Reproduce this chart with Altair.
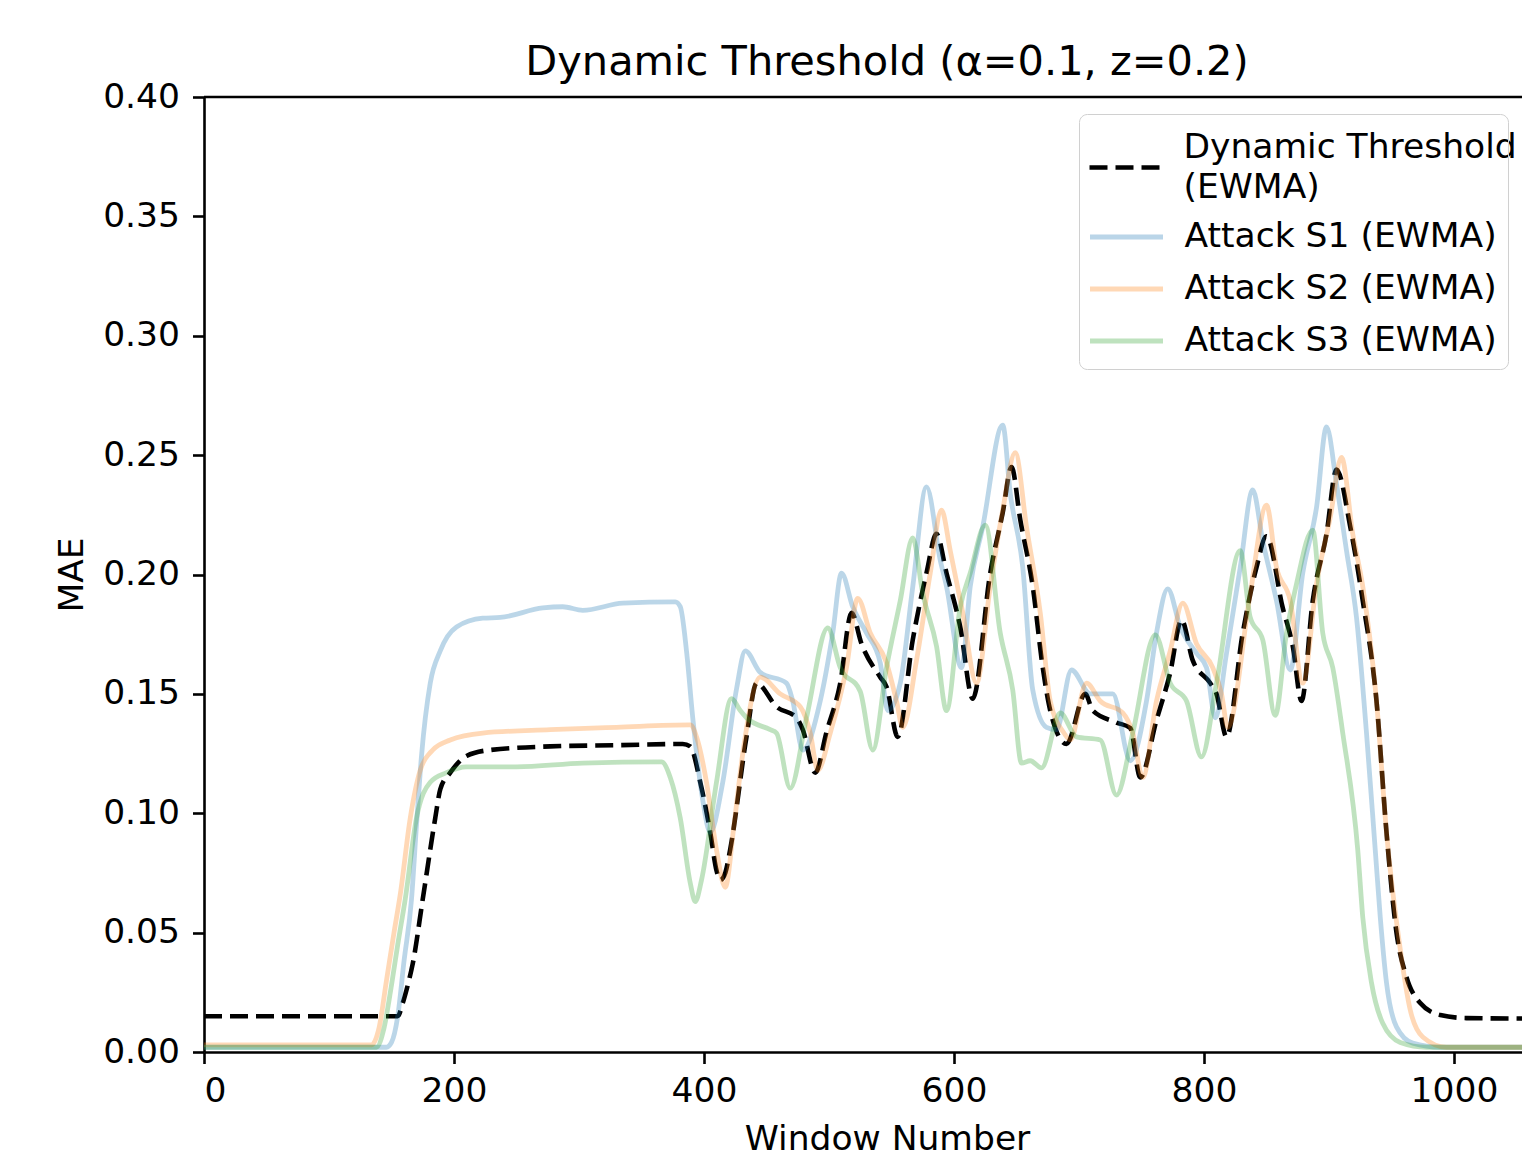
import altair as alt
import pandas as pd

names = ["Dynamic Threshold (EWMA)", "Attack S1 (EWMA)", "Attack S2 (EWMA)", "Attack S3 (EWMA)"]
colors = ["#000000", "#1f77b4", "#ff7f0e", "#2ca02c"]

thr_x = [0, 155, 159, 163, 167, 175, 185, 189, 197, 210, 229, 277, 330, 383, 389, 397, 405, 410, 413, 417, 421, 434, 442,
         458, 474, 479, 489, 498, 509, 518, 526, 541, 546, 555, 567, 578, 586, 594, 605, 615, 629, 639, 646, 653, 663,
         671, 677, 690, 705, 711, 730, 741, 749, 762, 773, 782, 791, 805, 810, 818, 831, 842, 850, 863, 871, 878, 887,
         898, 906, 917, 927, 938, 946, 954, 962, 973, 989, 1010, 1061]
thr_y = [0.015, 0.015, 0.0205, 0.028, 0.037, 0.064, 0.098, 0.110, 0.117, 0.124, 0.1265, 0.128, 0.1285, 0.129, 0.128,
         0.113, 0.092, 0.076, 0.072, 0.075, 0.085, 0.132, 0.1545, 0.1446, 0.140, 0.135, 0.117, 0.134, 0.1545, 0.184,
         0.171, 0.157, 0.153, 0.132, 0.1726, 0.2006, 0.217, 0.2006, 0.178, 0.148, 0.2006, 0.226, 0.245, 0.223, 0.195,
         0.161, 0.143, 0.129, 0.150, 0.143, 0.138, 0.1357, 0.115, 0.139, 0.159, 0.181, 0.164, 0.1545, 0.150, 0.132,
         0.1755, 0.203, 0.216, 0.186, 0.170, 0.147, 0.189, 0.217, 0.244, 0.220, 0.189, 0.147, 0.092, 0.050, 0.0314,
         0.0205, 0.0155, 0.0142, 0.014]

s1_x = [0, 146, 150, 155, 160, 166, 170, 174, 181, 189, 202, 223, 237, 271, 287, 303, 335, 377, 381, 386, 391, 399, 405,
        415, 426, 433, 445, 466, 471, 479, 493, 503, 510, 519, 530, 541, 547, 557, 567, 578, 589, 594, 606, 613, 623,
        639, 645, 655, 663, 674, 682, 694, 709, 727, 741, 754, 762, 771, 781, 794, 802, 809, 818, 829, 839, 847, 858,
        869, 879, 890, 898, 906, 914, 922, 930, 937, 941, 946, 954, 967, 989, 1061]
s1_y = [0.002, 0.002, 0.004, 0.015, 0.038, 0.064, 0.095, 0.124, 0.1545, 0.168, 0.178, 0.1817, 0.182, 0.186, 0.1865,
        0.185, 0.188, 0.1885, 0.1865, 0.168, 0.140, 0.1055, 0.092, 0.113, 0.152, 0.168, 0.159, 0.1545, 0.147, 0.1265,
        0.147, 0.1755, 0.2006, 0.1864, 0.1755, 0.163, 0.143, 0.1545, 0.1948, 0.2367, 0.206, 0.195, 0.161, 0.195, 0.220,
        0.2626, 0.234, 0.203, 0.1516, 0.136, 0.135, 0.160, 0.150, 0.150, 0.122, 0.147, 0.1755, 0.194, 0.178, 0.167,
        0.161, 0.140, 0.167, 0.203, 0.2354, 0.214, 0.189, 0.160, 0.2006, 0.228, 0.2618, 0.238, 0.210, 0.182, 0.1336,
        0.0846, 0.0565, 0.029, 0.0105, 0.0037, 0.002, 0.002]

s2_x = [0, 134, 140, 146, 152, 157, 165, 173, 183, 197, 223, 277, 330, 389, 394, 402, 410, 417, 424, 431, 445, 461, 477,
        485, 491, 501, 514, 523, 533, 546, 554, 559, 570, 581, 590, 597, 607, 618, 629, 639, 649, 658, 669, 677, 688,
        693, 706, 717, 735, 743, 751, 762, 773, 783, 794, 807, 814, 819, 837, 850, 858, 869, 879, 890, 901, 910, 919,
        927, 938, 946, 957, 965, 975, 994, 1061]
s2_y = [0.003, 0.003, 0.010, 0.030, 0.050, 0.066, 0.098, 0.118, 0.1265, 0.1307, 0.1336, 0.135, 0.136, 0.137, 0.132,
        0.113, 0.0846, 0.069, 0.095, 0.125, 0.157, 0.150, 0.1446, 0.1336, 0.118, 0.1336, 0.161, 0.190, 0.1755, 0.163,
        0.147, 0.136, 0.164, 0.2006, 0.227, 0.210, 0.184, 0.1545, 0.195, 0.227, 0.251, 0.220, 0.184, 0.147, 0.1336,
        0.1307, 0.1545, 0.147, 0.142, 0.1336, 0.115, 0.147, 0.168, 0.188, 0.171, 0.161, 0.150, 0.136, 0.192, 0.229,
        0.203, 0.189, 0.1545, 0.196, 0.224, 0.249, 0.217, 0.195, 0.147, 0.092, 0.043, 0.0176, 0.0063, 0.002, 0.002]

s3_x = [0, 138, 144, 150, 155, 161, 170, 181, 194, 210, 250, 303, 366, 373, 381, 389, 393, 398, 410, 422, 429, 434, 453,
        458, 469, 482, 499, 509, 525, 535, 546, 557, 567, 575, 586, 594, 605, 613, 625, 637, 647, 654, 661, 670, 685,
        698, 717, 730, 743, 761, 773, 786, 798, 810, 829, 837, 847, 857, 866, 874, 887, 895, 903, 911, 923, 927, 934,
        943, 957, 978, 1061]
s3_y = [0.002, 0.002, 0.010, 0.028, 0.045, 0.064, 0.098, 0.113, 0.117, 0.1194, 0.1194, 0.121, 0.1215, 0.115, 0.098,
        0.0708, 0.063, 0.072, 0.113, 0.148, 0.143, 0.140, 0.135, 0.1336, 0.1105, 0.140, 0.1776, 0.161, 0.151, 0.1265,
        0.161, 0.189, 0.2153, 0.192, 0.170, 0.143, 0.1864, 0.2006, 0.2207, 0.1755, 0.1516, 0.121, 0.122, 0.119, 0.142,
        0.132, 0.1307, 0.1076, 0.1336, 0.1747, 0.1545, 0.147, 0.1236, 0.1545, 0.210, 0.182, 0.1726, 0.141, 0.1755,
        0.196, 0.2186, 0.1755, 0.161, 0.1336, 0.0846, 0.0565, 0.029, 0.012, 0.004, 0.002, 0.002]

x_ticks = [0, 200, 400, 600, 800, 1000]
y_ticks = [0.0, 0.05, 0.10, 0.15, 0.20, 0.25, 0.30, 0.35, 0.40]

rows = []
for name, xs, ys in zip(names, [thr_x, s1_x, s2_x, s3_x], [thr_y, s1_y, s2_y, s3_y]):
    for xv, yv in zip(xs, ys):
        rows.append({"x": xv, "y": yv, "series": name})
df = pd.DataFrame(rows)

FONT = "DejaVu Sans"
FS = 34.5
PLOT_W = 1318  # 1.25 px per window
X_MAX = PLOT_W / 1.25
BLANK = "\u2800"  # blank glyph reserving the first row inside the legend frame
PAD = "\u00a0" * 4  # widens the legend frame past the right edge, as in the reference

x_enc = alt.X("x:Q", scale=alt.Scale(domain=[0, X_MAX], nice=False, zero=False),
              axis=alt.Axis(values=x_ticks, title="Window Number", titleX=683, format="d"))
y_enc = alt.Y("y:Q", scale=alt.Scale(domain=[0, 0.4], nice=False),
              axis=alt.Axis(values=y_ticks, title="MAE", format=".2f"))

thr_legend = alt.Legend(
    title=None, orient="none", legendX=875, legendY=39, padding=11,
    labelExpr="['Dynamic Threshold', '(EWMA)']", labelBaseline="line-bottom",
    symbolStrokeColor="black", symbolStrokeWidth=4.5,
)
att_legend = alt.Legend(
    title=BLANK, titleFontSize=33, titlePadding=58, titleLimit=5000,
    labelExpr="datum.label + '" + PAD + "'",
    orient="none", legendX=875, legendY=17, padding=11, rowPadding=14,
    strokeColor="#d0d0d0", cornerRadius=8, symbolOpacity=0.3, symbolStrokeWidth=4.8,
)

base = alt.Chart(df)
thr_layer = base.transform_filter(alt.datum.series == names[0]).mark_line(
    interpolate="monotone", strokeWidth=4.6, color="black", clip=True
).encode(
    x=x_enc, y=y_enc,
    strokeDash=alt.StrokeDash("series:N", scale=alt.Scale(domain=[names[0]], range=[[18, 8]]), legend=thr_legend),
)
att_layer = base.transform_filter(alt.datum.series != names[0]).mark_line(
    interpolate="monotone", strokeWidth=4.8, opacity=0.3, clip=True
).encode(
    x=x_enc, y=y_enc,
    color=alt.Color("series:N", scale=alt.Scale(domain=names[1:], range=colors[1:]), legend=att_legend),
)

top_rule = alt.Chart(pd.DataFrame({"y": [0.4]})).mark_rule(color="black", strokeWidth=2.6).encode(y="y:Q")

chart = alt.layer(thr_layer, att_layer, top_rule).properties(
    width=PLOT_W, height=955,
    title=alt.Title("Dynamic Threshold (α=0.1, z=0.2)", fontSize=41.5, font=FONT, fontWeight="normal",
                    anchor="middle", frame="group", dx=24, offset=-4, color="black"),
    padding={"left": 196, "top": 89, "right": 0, "bottom": 100},
    autosize=alt.AutoSizeParams(type="none"),
).configure(
    style={"guide-label": {"lineHeight": 40}}
).configure_view(stroke=None).configure_axis(
    grid=False, domainColor="black", domainWidth=2.6, tickColor="black", tickWidth=2.6, tickSize=11.5,
    labelFont=FONT, labelFontSize=FS, labelColor="black", labelPadding=11,
    titleFont=FONT, titleFontSize=FS, titleFontWeight="normal", titleColor="black",
).configure_axisY(titlePadding=13, labelPadding=13).configure_axisX(titlePadding=14).configure_legend(
    labelFont=FONT, labelFontSize=FS, labelColor="black", titleFont=FONT,
    symbolType="M-2,0H2", symbolSize=1332.25, symbolOffset=15.5, labelOffset=37, labelLimit=1000,
)

chart.save("out.html", embed_options={"renderer": "svg", "actions": False})
